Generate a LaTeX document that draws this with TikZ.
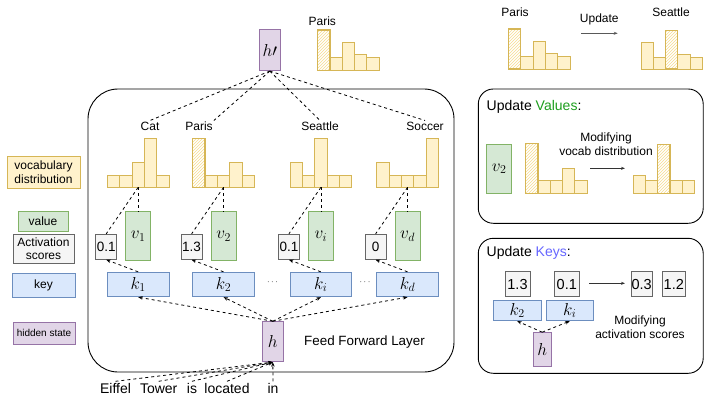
\documentclass[tikz,border=0pt]{standalone}
\usepackage{fontspec}
\setmainfont{Liberation Sans}
\usetikzlibrary{patterns,arrows.meta}
\definecolor{ybd}{HTML}{D6B656}
\definecolor{yfill}{HTML}{FFF2CC}
\definecolor{gbd}{HTML}{82B366}
\definecolor{gfill}{HTML}{D5E8D4}
\definecolor{bbd}{HTML}{6C8EBF}
\definecolor{bfill}{HTML}{DAE8FC}
\definecolor{sbd}{HTML}{666666}
\definecolor{sfill}{HTML}{F5F5F5}
\definecolor{pbd}{HTML}{9673A6}
\definecolor{pfill}{HTML}{E1D5E7}
\definecolor{hatchc}{HTML}{F7DC8F}
\definecolor{valgreen}{HTML}{1E9E1E}
\definecolor{keyblue}{HTML}{6666FF}
\tikzset{
  every node/.style={font=\fontsize{12}{13.5}\selectfont, inner sep=1pt},
  ybar/.style={draw=ybd, fill=yfill, line width=0.9pt},
  hbar/.style={draw=ybd, line width=1.4pt, preaction={fill=white}, pattern=north east lines, pattern color=hatchc},
  keyb/.style={draw=bbd, fill=bfill, line width=0.9pt, minimum width=61.7pt, minimum height=24.4pt, inner sep=0pt, font=\fontsize{18}{18}\selectfont},
  valb/.style={draw=gbd, fill=gfill, line width=0.9pt, minimum width=25pt, minimum height=48.3pt, inner sep=0pt, font=\fontsize{18}{18}\selectfont},
  scoreb/.style={draw=sbd, fill=sfill, line width=0.9pt, minimum width=21pt, minimum height=25pt, inner sep=0pt, font=\fontsize{13.5}{14}\selectfont},
  hidb/.style={draw=pbd, fill=pfill, line width=0.9pt, minimum width=21pt, minimum height=40pt, inner sep=0pt, font=\fontsize{17}{17}\selectfont},
  legb/.style={line width=0.9pt, inner sep=0pt, align=center},
  lab/.style={text height=8.6pt, text depth=0pt, inner sep=1pt},
  word/.style={font=\fontsize{14}{16}\selectfont, text height=10pt, text depth=0pt, inner sep=1.5pt},
  conn/.style={dash pattern=on 3pt off 3pt, line width=0.8pt},
  arr/.style={conn, -{Stealth[length=4.5pt,width=3.5pt]}},
  garr/.style={line width=0.7pt, draw=black!65, -{Stealth[length=4pt,width=3pt]}},
  panel/.style={line width=0.9pt, rounded corners=15pt},
}
\newcommand{\drawhist}[5]{%
  \foreach \hh [count=\ii] in {#4}{%
    \pgfmathsetmacro{\xa}{#1+(\ii-1)*#3}%
    \ifnum\ii=#5\relax\else
      \draw[ybar] (\xa,#2) rectangle ++(#3,-\hh);
    \fi
  }%
  \foreach \hh [count=\ii] in {#4}{%
    \pgfmathsetmacro{\xa}{#1+(\ii-1)*#3}%
    \ifnum\ii=#5\relax
      \draw[hbar] (\xa,#2) rectangle ++(#3,-\hh);
    \fi
  }%
}
\newcommand{\ffcol}[5]{%
  \coordinate (hb#2) at (#1+30.9,187.3);
  \node[valb] (v#2) at (#1+30.9,236) {$v_{#4}$};
  \node[scoreb] (s#2) at (#1-1.1,246.8) {#3};
  \node[keyb] (k#2) at (#1+30.85,284.5) {$k_{#5}$};
  \draw[conn] (hb#2) -- (v#2.north);
  \draw[conn] (hb#2) -- (s#2.north);
  \draw[arr] (k#2.north) -- (s#2.south);
  \draw[arr] (h.north) -- (k#2.south);
}
\begin{document}
\begin{tikzpicture}[x=1pt,y=-1pt]
\useasboundingbox (0,0) rectangle (704,401);

% ---------- legend ----------
\node[legb, draw=ybd, fill=yfill, minimum width=73pt, minimum height=32pt] (lvoc) at (43.5,172) {vocabulary\\distribution};
\node[legb, draw=gbd, fill=gfill, minimum width=50pt, minimum height=20pt] (lval) at (43,221) {value};
\node[legb, draw=sbd, fill=sfill, minimum width=61pt, minimum height=29pt] (lact) at (43.5,248.5) {Activation\\scores};
\node[legb, draw=bbd, fill=bfill, minimum width=63pt, minimum height=24pt] (lkey) at (43.5,285) {key};
\node[legb, draw=pbd, fill=pfill, minimum width=62pt, minimum height=22pt, font=\fontsize{10}{12}\selectfont] (lhid) at (44,333) {hidden state};

% ---------- main box ----------
\draw[line width=0.9pt, rounded corners=30pt] (88,89) rectangle (454,372);
\node (ffl) at (364.5,342.3) {\fontsize{13.4}{15}\selectfont Feed Forward Layer};

% hidden state h
\node[hidb] (h) at (272.8,341.7) {$h$};

% histograms
\drawhist{107.3}{187.3}{12.35}{12,12,25,49,12}{0}
\drawhist{192.7}{187.3}{12.35}{49,12,12,25,12}{1}
\drawhist{290}{187.3}{12.35}{25,12,49,12,12}{0}
\drawhist{376.7}{187.3}{12.35}{25,12,12,12,49}{0}

\node[lab] (lcat) at (150,126) {Cat};
\node[lab] (lpar) at (199,126) {Paris};
\node[lab] (lsea) at (320,126) {Seattle};
\node[lab] (lsoc) at (425,126) {Soccer};

\ffcol{107.3}{1}{0.1}{1}{1}
\ffcol{192.7}{2}{1.3}{2}{2}
\ffcol{290}{i}{0.1}{i}{i}
\ffcol{376.7}{d}{0}{d}{d}

\node (dots1) at (272.5,282) {\fontsize{9}{9}\selectfont$\cdots$};
\node (dots2) at (365,282) {\fontsize{9}{9}\selectfont$\cdots$};

% h' on top
\node[hidb, minimum width=21.7pt, minimum height=40.7pt] (hp) at (269.8,50.3) {$h\prime$};
\drawhist{317.7}{70.7}{12.3}{40.7,13.3,28.3,16.3,13}{1}
\node[lab] (tpar) at (322.3,21.7) {Paris};
\draw[conn] (hp.south) -- (lcat.north);
\draw[conn] (hp.south) -- (lpar.north east);
\draw[conn] (hp.south) -- (lsea.north);
\draw[conn] (hp.south) -- (lsoc.north);

% input words
\node[word] (w1) at (115.5,388) {Eiffel};
\node[word] (w2) at (158.7,388) {Tower};
\node[word] (w3) at (192,388) {is};
\node[word] (w4) at (227,388) {located};
\node[word] (w5) at (273,388) {in};
\foreach \w in {w1,w2,w3,w4,w5}{\draw[arr] (\w.north) -- (h.south);}

% ---------- top right ----------
\drawhist{508.3}{69}{12.35}{40,12.3,27.3,15.7,12.3}{1}
\drawhist{641}{69}{12.25}{26.3,11.3,38.3,14.7,11.3}{3}
\node[lab] (rpar) at (515,12) {Paris};
\node[lab] (rsea) at (671,12) {Seattle};
\node[lab] (rupd) at (599.3,18.3) {Update};
\coordinate (ua) at (581,33.3);
\coordinate (ub) at (617.7,33.3);
\draw[garr] (ua) -- (ub);

% ---------- update values ----------
\draw[panel] (478.3,89) rectangle (703.2,223.3);
\node[anchor=west, font=\fontsize{14}{16}\selectfont] (tval) at (485.5,106.7) {Update \textcolor{valgreen}{Values}:};
\node[valb, minimum height=49pt] (v2r) at (499.2,168.8) {$v_2$};
\drawhist{525.7}{193.3}{12.3}{50,12.7,12.7,25,12.7}{1}
\drawhist{633.3}{193.3}{12.2}{18.3,12.7,49,12.7,12.7}{3}
\node[align=center] (mvoc) at (606,144.2) {Modifying\\vocab distribution};
\coordinate (va) at (590,168.3);
\coordinate (vb) at (625,168.3);
\draw[garr, draw=black!80] (va) -- (vb);

% ---------- update keys ----------
\draw[panel] (478.3,238.3) rectangle (703.2,373.3);
\node[anchor=west, font=\fontsize{14}{16}\selectfont] (tkey) at (485.5,253.3) {Update \textcolor{keyblue}{Keys}:};
\node[scoreb, minimum width=25pt, font=\fontsize{14.5}{15}\selectfont] (r13) at (517.5,284.2) {1.3};
\node[scoreb, minimum width=25pt, font=\fontsize{14.5}{15}\selectfont] (r01) at (566.8,284.2) {0.1};
\node[scoreb, minimum width=21pt, font=\fontsize{14.5}{15}\selectfont] (r03) at (641.7,284.2) {0.3};
\node[scoreb, minimum width=22.3pt, font=\fontsize{14.5}{15}\selectfont] (r12) at (673.8,284.2) {1.2};
\coordinate (ka) at (589.3,283.3);
\coordinate (kb) at (625,283.3);
\draw[garr, draw=black!80] (ka) -- (kb);
\node[keyb, minimum width=47.7pt, minimum height=20pt] (k2r) at (517.2,310.7) {$k_2$};
\node[keyb, minimum width=47.3pt, minimum height=20pt] (kir) at (569.7,310.7) {$k_i$};
\node[hidb, minimum width=17.7pt, minimum height=33.3pt] (hr) at (542.2,349.3) {$h$};
\draw[arr] (hr.north) -- (k2r.south);
\draw[arr] (hr.north) -- (kir.south);
\node[align=center] (mact) at (640,327) {Modifying\\activation scores};
\end{tikzpicture}
\end{document}
